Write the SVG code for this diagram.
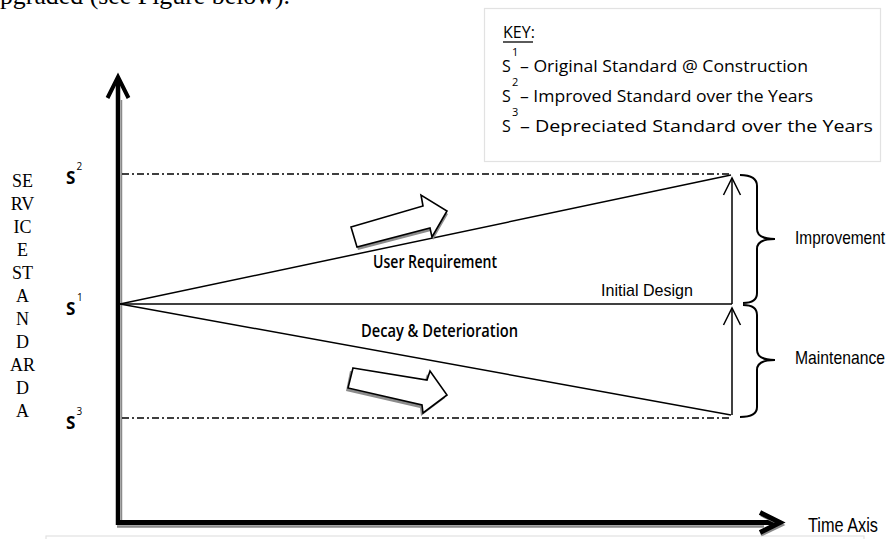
<svg xmlns="http://www.w3.org/2000/svg" width="890" height="539" viewBox="0 0 890 539">
  <style>
    .serif { font-family: "Liberation Serif", "Times New Roman", serif; fill: #000; }
    .sans { font-family: "Liberation Sans", Arial, sans-serif; fill: #000; }
    .cal { font-family: "Open Sans", "Noto Sans", sans-serif; fill: #000; }
    .thin { stroke: #000; stroke-width: 1.5; fill: none; }
    .dashdot { stroke: #000; stroke-width: 1.4; fill: none; stroke-dasharray: 7 3 2 3; }
    .axis { stroke: #000; fill: none; stroke-linecap: butt; }
    .shadow { stroke: #8a8a8a; fill: none; }
    .brace { stroke: #000; stroke-width: 2; fill: none; }
    .block { fill: #fff; stroke: #000; stroke-width: 1.6; stroke-linejoin: miter; }
    .blockshadow { fill: #8c8c8c; }
    .frame { fill: #fff; stroke: #e2e2e2; stroke-width: 1.2; }
  </style>

  <!-- running paragraph text above the figure -->
  <text class="serif" x="-13" y="4" font-size="26" textLength="303" lengthAdjust="spacingAndGlyphs">upgraded (see Figure below).</text>

  <!-- key box -->
  <g id="key">
    <rect class="frame" x="484.5" y="8.5" width="396" height="153"/>
    <text class="cal" x="503" y="38" font-size="16">KEY:</text>
    <line x1="503" y1="42" x2="533" y2="42" stroke="#000" stroke-width="1.3"/>
    <text class="cal" x="502" y="72" font-size="16">S</text>
    <text class="cal" x="512" y="56" font-size="11">1</text>
    <text class="cal" x="520" y="72" font-size="16" textLength="288" lengthAdjust="spacingAndGlyphs">– Original Standard @ Construction</text>
    <text class="cal" x="502" y="102" font-size="16">S</text>
    <text class="cal" x="512" y="86" font-size="11">2</text>
    <text class="cal" x="520" y="102" font-size="16" textLength="293" lengthAdjust="spacingAndGlyphs">– Improved Standard over the Years</text>
    <text class="cal" x="502" y="132" font-size="16">S</text>
    <text class="cal" x="512" y="116" font-size="11">3</text>
    <text class="cal" x="520" y="132" font-size="16" textLength="353" lengthAdjust="spacingAndGlyphs">– Depreciated Standard over the Years</text>
  </g>

  <!-- bottom caption frame edge -->
  <rect class="frame" x="46" y="536" width="818" height="12"/>

  <!-- vertical axis title -->
  <g id="y-title" class="serif" font-size="18" text-anchor="middle">
    <text x="22.5" y="187">SE</text>
    <text x="22.5" y="210">RV</text>
    <text x="22.5" y="233">IC</text>
    <text x="22.5" y="256">E</text>
    <text x="22.5" y="279">ST</text>
    <text x="22.5" y="302">A</text>
    <text x="22.5" y="325">N</text>
    <text x="22.5" y="348">D</text>
    <text x="22.5" y="371">AR</text>
    <text x="22.5" y="394">D</text>
    <text x="22.5" y="417">A</text>
  </g>

  <!-- standard level labels -->
  <g id="s2-label">
    <text class="cal" x="66" y="184" font-size="17" font-weight="bold">S</text>
    <text class="cal" x="76.5" y="170" font-size="10">2</text>
  </g>
  <g id="s1-label">
    <text class="cal" x="66" y="315" font-size="17" font-weight="bold">S</text>
    <text class="cal" x="77" y="301" font-size="10">1</text>
  </g>
  <g id="s3-label">
    <text class="cal" x="66" y="429" font-size="17" font-weight="bold">S</text>
    <text class="cal" x="76.5" y="415" font-size="10">3</text>
  </g>

  <!-- axes -->
  <g id="axes">
    <line class="shadow" x1="121.5" y1="100" x2="121.5" y2="520" stroke-width="1.5" stroke="#c8c8c8"/>
    <line class="shadow" x1="117" y1="526.5" x2="764" y2="526.5" stroke-width="2.5"/>
    <line class="axis" x1="118" y1="80" x2="118" y2="525" stroke-width="4.5"/>
    <polyline class="axis" points="107.5,98 118,77 128.5,98" stroke-width="4" stroke-linejoin="miter"/>
    <line class="axis" x1="116" y1="522.5" x2="778" y2="522.5" stroke-width="5"/>
    <polyline class="shadow" points="761,515 782,525 761,535" stroke-width="3"/>
    <polyline class="axis" points="760,512.5 780,522.5 760,532.5" stroke-width="5" stroke-linejoin="miter"/>
  </g>

  <!-- connectors: standard lines, trends, level arrows -->
  <g id="connectors">
    <line class="dashdot" x1="122" y1="174" x2="730" y2="174"/>
    <line class="dashdot" x1="122" y1="418" x2="730" y2="418"/>
    <line class="thin" x1="120" y1="304" x2="731" y2="175"/>
    <line class="thin" x1="120" y1="304" x2="731" y2="415"/>
    <line class="thin" x1="120" y1="304" x2="732" y2="304"/>
    <line class="thin" x1="732" y1="304" x2="732" y2="178" stroke-width="1.3"/>
    <polyline class="thin" points="723.5,195 732,178 740.5,195" stroke-width="1.5"/>
    <line class="thin" x1="732" y1="415" x2="732" y2="308" stroke-width="1.3"/>
    <polyline class="thin" points="723.5,325 732,308 740.5,325" stroke-width="1.5"/>
  </g>

  <!-- trend direction block arrows -->
  <g id="user-arrow">
    <polygon class="blockshadow" points="352,230 424,209 422,198 448,214 433,240 431,231 358,250"/>
    <polygon class="block" points="351,227 423,206 421,195 447,211 432,237 430,228 357,247"/>
  </g>
  <g id="decay-arrow">
    <polygon class="blockshadow" points="350,371 424,383 427,374 445,398 421,416 420,408 346,391"/>
    <polygon class="block" points="353,368 427,380 430,371 447,395 423,413 422,405 348,388"/>
  </g>

  <!-- line labels -->
  <g id="user-requirement">
    <text class="cal" x="373" y="268" font-size="17.5" font-weight="600" textLength="124" lengthAdjust="spacingAndGlyphs">User Requirement</text>
  </g>
  <g id="decay">
    <text class="cal" x="361" y="337" font-size="17.5" font-weight="600" textLength="157" lengthAdjust="spacingAndGlyphs">Decay &amp; Deterioration</text>
  </g>
  <g id="initial-design">
    <text class="sans" x="601" y="296" font-size="17" textLength="92" lengthAdjust="spacingAndGlyphs">Initial Design</text>
  </g>

  <!-- braces and range labels -->
  <g id="improvement">
    <path class="brace" d="M740,175 Q757,175 757,186 L757,229 Q757,239 775,239 Q757,239 757,249 L757,293 Q757,303 743,303"/>
    <text class="sans" x="795" y="244" font-size="19" textLength="90" lengthAdjust="spacingAndGlyphs">Improvement</text>
  </g>
  <g id="maintenance">
    <path class="brace" d="M743,305 Q757,305 757,315 L757,350 Q757,360 775,360 Q757,360 757,370 L757,407 Q757,417 740,417"/>
    <text class="sans" x="795" y="364" font-size="19" textLength="90" lengthAdjust="spacingAndGlyphs">Maintenance</text>
  </g>

  <g id="time-axis-label">
    <text class="sans" x="808" y="532" font-size="20" textLength="70" lengthAdjust="spacingAndGlyphs">Time Axis</text>
  </g>
</svg>
